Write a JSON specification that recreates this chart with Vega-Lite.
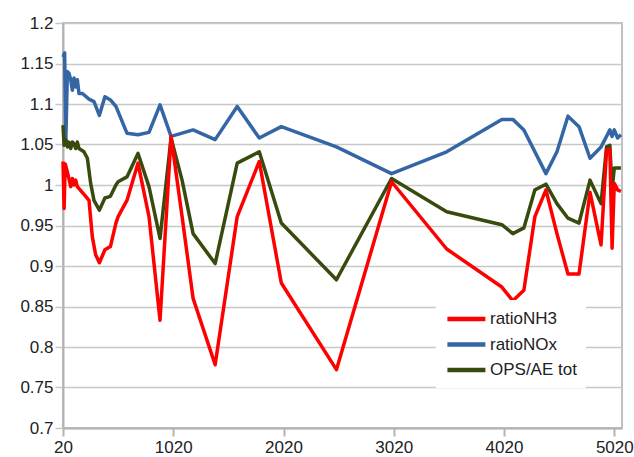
{
  "$schema": "https://vega.github.io/schema/vega-lite/v6.json",
  "width": 559,
  "height": 405,
  "autosize": {"type": "none"},
  "padding": {"left": 63, "top": 23, "right": 12, "bottom": 29},
  "background": "white",
  "config": {"view": {"stroke": "#c0c0c0", "strokeWidth": 2}, "font": "Liberation Sans"},
  "data": {"values": [
    {"s":"ratioNOx","x":20,"y":1.158},{"s":"ratioNOx","x":35,"y":1.163},{"s":"ratioNOx","x":45,"y":1.052},{"s":"ratioNOx","x":60,"y":1.14},{"s":"ratioNOx","x":74,"y":1.138},{"s":"ratioNOx","x":90,"y":1.13},{"s":"ratioNOx","x":105,"y":1.117},{"s":"ratioNOx","x":120,"y":1.132},{"s":"ratioNOx","x":135,"y":1.121},{"s":"ratioNOx","x":150,"y":1.13},{"s":"ratioNOx","x":165,"y":1.113},{"s":"ratioNOx","x":196,"y":1.113},{"s":"ratioNOx","x":256,"y":1.106},{"s":"ratioNOx","x":301,"y":1.103},{"s":"ratioNOx","x":350,"y":1.086},{"s":"ratioNOx","x":400,"y":1.109},{"s":"ratioNOx","x":450,"y":1.105},{"s":"ratioNOx","x":500,"y":1.097},{"s":"ratioNOx","x":600,"y":1.064},{"s":"ratioNOx","x":700,"y":1.062},{"s":"ratioNOx","x":800,"y":1.065},{"s":"ratioNOx","x":900,"y":1.099},{"s":"ratioNOx","x":1000,"y":1.06},{"s":"ratioNOx","x":1200,"y":1.068},{"s":"ratioNOx","x":1400,"y":1.056},{"s":"ratioNOx","x":1600,"y":1.097},{"s":"ratioNOx","x":1800,"y":1.058},{"s":"ratioNOx","x":2000,"y":1.072},{"s":"ratioNOx","x":2500,"y":1.047},{"s":"ratioNOx","x":3000,"y":1.014},{"s":"ratioNOx","x":3500,"y":1.041},{"s":"ratioNOx","x":4000,"y":1.081},{"s":"ratioNOx","x":4100,"y":1.081},{"s":"ratioNOx","x":4200,"y":1.068},{"s":"ratioNOx","x":4400,"y":1.014},{"s":"ratioNOx","x":4500,"y":1.041},{"s":"ratioNOx","x":4600,"y":1.085},{"s":"ratioNOx","x":4700,"y":1.072},{"s":"ratioNOx","x":4800,"y":1.033},{"s":"ratioNOx","x":4900,"y":1.047},{"s":"ratioNOx","x":4950,"y":1.06},{"s":"ratioNOx","x":4980,"y":1.068},{"s":"ratioNOx","x":5000,"y":1.06},{"s":"ratioNOx","x":5020,"y":1.068},{"s":"ratioNOx","x":5050,"y":1.058},{"s":"ratioNOx","x":5080,"y":1.062},
    {"s":"OPS/AE tot","x":20,"y":1.074},{"s":"OPS/AE tot","x":30,"y":1.049},{"s":"OPS/AE tot","x":45,"y":1.056},{"s":"OPS/AE tot","x":60,"y":1.047},{"s":"OPS/AE tot","x":74,"y":1.053},{"s":"OPS/AE tot","x":90,"y":1.045},{"s":"OPS/AE tot","x":105,"y":1.053},{"s":"OPS/AE tot","x":120,"y":1.051},{"s":"OPS/AE tot","x":135,"y":1.045},{"s":"OPS/AE tot","x":150,"y":1.053},{"s":"OPS/AE tot","x":165,"y":1.045},{"s":"OPS/AE tot","x":210,"y":1.041},{"s":"OPS/AE tot","x":241,"y":1.033},{"s":"OPS/AE tot","x":271,"y":1.002},{"s":"OPS/AE tot","x":301,"y":0.981},{"s":"OPS/AE tot","x":350,"y":0.969},{"s":"OPS/AE tot","x":400,"y":0.984},{"s":"OPS/AE tot","x":450,"y":0.986},{"s":"OPS/AE tot","x":500,"y":1.0},{"s":"OPS/AE tot","x":520,"y":1.004},{"s":"OPS/AE tot","x":600,"y":1.01},{"s":"OPS/AE tot","x":700,"y":1.039},{"s":"OPS/AE tot","x":800,"y":0.998},{"s":"OPS/AE tot","x":900,"y":0.934},{"s":"OPS/AE tot","x":1000,"y":1.058},{"s":"OPS/AE tot","x":1100,"y":1.006},{"s":"OPS/AE tot","x":1200,"y":0.94},{"s":"OPS/AE tot","x":1400,"y":0.903},{"s":"OPS/AE tot","x":1600,"y":1.027},{"s":"OPS/AE tot","x":1800,"y":1.041},{"s":"OPS/AE tot","x":2000,"y":0.953},{"s":"OPS/AE tot","x":2500,"y":0.883},{"s":"OPS/AE tot","x":3000,"y":1.008},{"s":"OPS/AE tot","x":3500,"y":0.967},{"s":"OPS/AE tot","x":4000,"y":0.951},{"s":"OPS/AE tot","x":4100,"y":0.94},{"s":"OPS/AE tot","x":4200,"y":0.947},{"s":"OPS/AE tot","x":4300,"y":0.994},{"s":"OPS/AE tot","x":4400,"y":1.001},{"s":"OPS/AE tot","x":4500,"y":0.977},{"s":"OPS/AE tot","x":4600,"y":0.959},{"s":"OPS/AE tot","x":4700,"y":0.953},{"s":"OPS/AE tot","x":4800,"y":1.006},{"s":"OPS/AE tot","x":4900,"y":0.977},{"s":"OPS/AE tot","x":4950,"y":1.047},{"s":"OPS/AE tot","x":4980,"y":1.049},{"s":"OPS/AE tot","x":5000,"y":0.994},{"s":"OPS/AE tot","x":5020,"y":1.021},{"s":"OPS/AE tot","x":5080,"y":1.021},
    {"s":"ratioNH3","x":20,"y":1.029},{"s":"ratioNH3","x":30,"y":0.971},{"s":"ratioNH3","x":40,"y":1.026},{"s":"ratioNH3","x":60,"y":1.016},{"s":"ratioNH3","x":90,"y":0.998},{"s":"ratioNH3","x":105,"y":1.008},{"s":"ratioNH3","x":120,"y":1.0},{"s":"ratioNH3","x":135,"y":1.006},{"s":"ratioNH3","x":150,"y":0.998},{"s":"ratioNH3","x":226,"y":0.986},{"s":"ratioNH3","x":256,"y":0.981},{"s":"ratioNH3","x":286,"y":0.936},{"s":"ratioNH3","x":316,"y":0.914},{"s":"ratioNH3","x":350,"y":0.904},{"s":"ratioNH3","x":400,"y":0.92},{"s":"ratioNH3","x":450,"y":0.924},{"s":"ratioNH3","x":500,"y":0.953},{"s":"ratioNH3","x":520,"y":0.961},{"s":"ratioNH3","x":600,"y":0.981},{"s":"ratioNH3","x":700,"y":1.027},{"s":"ratioNH3","x":800,"y":0.961},{"s":"ratioNH3","x":900,"y":0.833},{"s":"ratioNH3","x":1000,"y":1.06},{"s":"ratioNH3","x":1100,"y":0.961},{"s":"ratioNH3","x":1200,"y":0.86},{"s":"ratioNH3","x":1400,"y":0.778},{"s":"ratioNH3","x":1600,"y":0.961},{"s":"ratioNH3","x":1800,"y":1.029},{"s":"ratioNH3","x":2000,"y":0.879},{"s":"ratioNH3","x":2500,"y":0.772},{"s":"ratioNH3","x":3000,"y":1.004},{"s":"ratioNH3","x":3500,"y":0.921},{"s":"ratioNH3","x":4000,"y":0.874},{"s":"ratioNH3","x":4100,"y":0.857},{"s":"ratioNH3","x":4200,"y":0.87},{"s":"ratioNH3","x":4300,"y":0.961},{"s":"ratioNH3","x":4400,"y":0.994},{"s":"ratioNH3","x":4500,"y":0.94},{"s":"ratioNH3","x":4600,"y":0.89},{"s":"ratioNH3","x":4700,"y":0.89},{"s":"ratioNH3","x":4800,"y":0.991},{"s":"ratioNH3","x":4900,"y":0.926},{"s":"ratioNH3","x":4950,"y":1.043},{"s":"ratioNH3","x":4980,"y":1.044},{"s":"ratioNH3","x":5000,"y":0.922},{"s":"ratioNH3","x":5020,"y":1.002},{"s":"ratioNH3","x":5050,"y":0.994},{"s":"ratioNH3","x":5080,"y":0.992}
  ]},
  "mark": {"type": "line", "strokeWidth": 3.5, "strokeJoin": "round"},
  "encoding": {
    "x": {"field": "x", "type": "quantitative",
      "scale": {"domain": [20, 5090], "nice": false, "zero": false},
      "axis": {"values": [20, 1020, 2020, 3020, 4020, 5020], "format": "d", "grid": false, "title": null,
        "domainColor": "#b3b3b3", "domainWidth": 2, "tickColor": "#b3b3b3", "tickWidth": 2, "tickSize": 8,
        "labelFontSize": 17, "labelColor": "#222222", "labelPadding": 3, "labelFlush": false, "labelOverlap": false}},
    "y": {"field": "y", "type": "quantitative",
      "scale": {"domain": [0.7, 1.2], "nice": false, "zero": false},
      "axis": {"values": [0.7, 0.75, 0.8, 0.85, 0.9, 0.95, 1, 1.05, 1.1, 1.15, 1.2], "format": ".2~f", "title": null,
        "grid": true, "gridColor": "#c8c8c8", "gridWidth": 1.5,
        "domainColor": "#b3b3b3", "domainWidth": 2, "tickColor": "#c8c8c8", "tickWidth": 1.5, "tickSize": 8,
        "labelFontSize": 17, "labelColor": "#222222", "labelPadding": 2, "labelFlush": false, "labelOverlap": false}},
    "color": {"field": "s", "type": "nominal",
      "scale": {"domain": ["ratioNH3", "ratioNOx", "OPS/AE tot"], "range": ["#ff0000", "#3465a4", "#384b0e"]},
      "legend": {"orient": "none", "legendX": 373, "legendY": 277, "title": null, "fillColor": "white", "padding": 9,
        "symbolType": "M-1,0H4", "symbolSize": 231, "symbolStrokeWidth": 4.5, "labelFontSize": 17,
        "labelColor": "#222222", "rowPadding": 6.5, "labelOffset": 25}}
  }
}
